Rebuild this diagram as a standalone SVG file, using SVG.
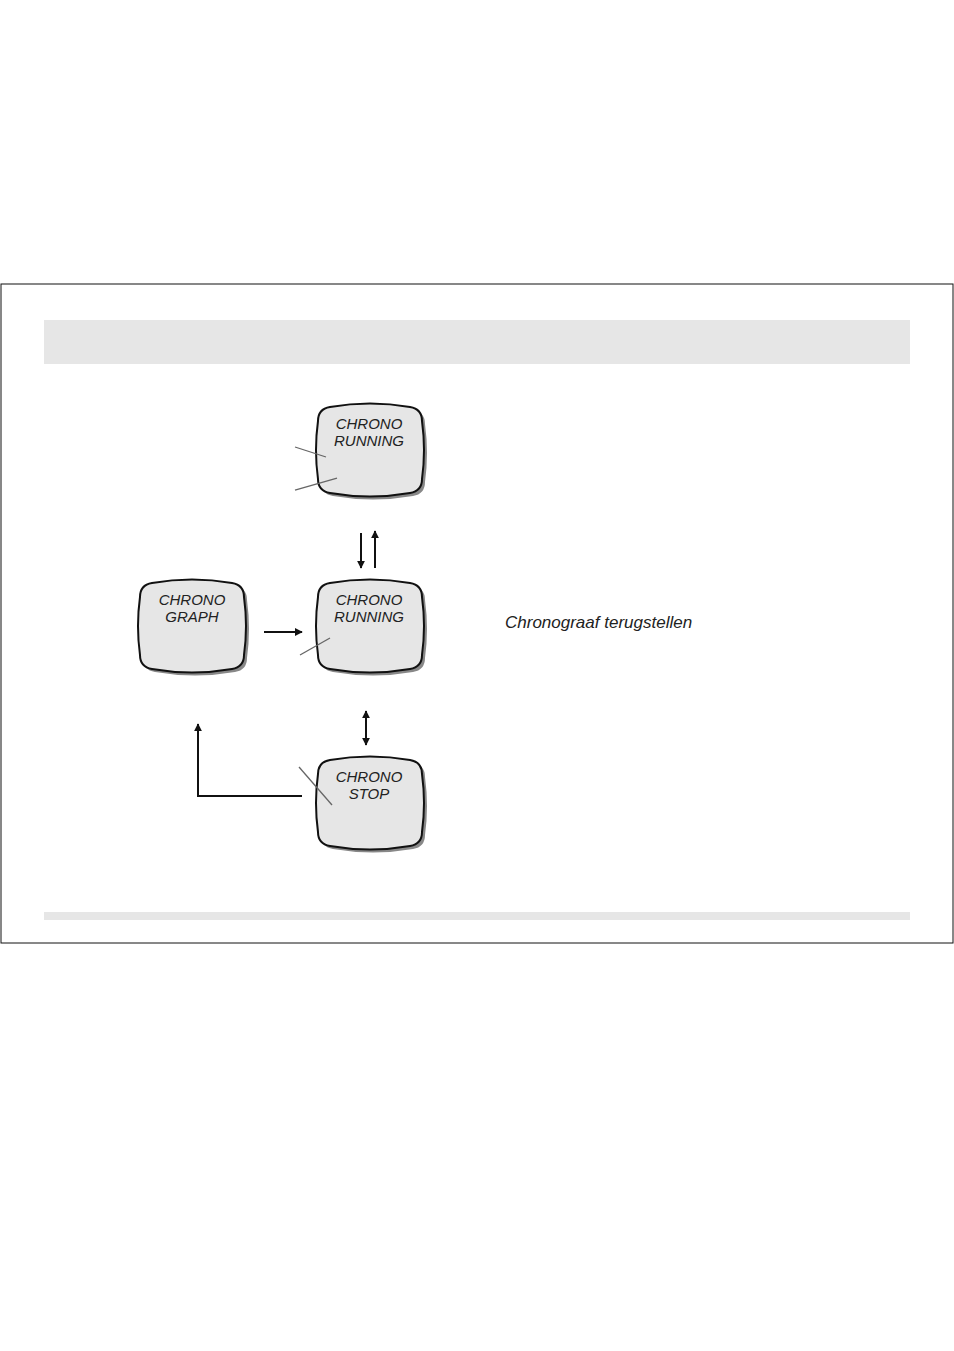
<svg xmlns="http://www.w3.org/2000/svg" width="954" height="1351" viewBox="0 0 954 1351">
<style>
.w{fill:#e6e6e6;stroke:#111;stroke-width:2}
.sh{fill:#888}
.t{font-family:"Liberation Sans",Arial,sans-serif;font-style:italic;font-size:15px;fill:#222;text-anchor:middle}
.c{stroke:#111;stroke-width:2;fill:none}
.p{stroke:#666;stroke-width:1.3}
</style>
<defs>
<path id="watch" d="M12,3 Q52,-4 92,3 Q104,5 104,17 Q108,46 104,75 Q104,87 92,89 Q52,96 12,89 Q0,87 0,75 Q-4,46 0,17 Q0,5 12,3 Z"/>
<marker id="ah" viewBox="0 0 10 10" refX="9" refY="5" markerWidth="4" markerHeight="4" orient="auto-start-reverse"><path d="M0,0 L10,5 L0,10 Z" fill="#111"/></marker>
</defs>
<rect x="1" y="284" width="952" height="659" fill="#fff" stroke="#111" stroke-width="1"/>
<rect x="44" y="320" width="866" height="44" fill="#e6e6e6"/>
<rect x="44" y="912" width="866" height="8" fill="#e6e6e6"/>
<g id="running1" transform="translate(318,404)"><use href="#watch" class="sh" x="3" y="3"/><use href="#watch" class="w"/><text class="t" x="51" y="25">CHRONO</text><text class="t" x="51" y="42">RUNNING</text></g>
<g id="running2" transform="translate(318,580)"><use href="#watch" class="sh" x="3" y="3"/><use href="#watch" class="w"/><text class="t" x="51" y="25">CHRONO</text><text class="t" x="51" y="42">RUNNING</text></g>
<g id="graph" transform="translate(140,580)"><use href="#watch" class="sh" x="3" y="3"/><use href="#watch" class="w"/><text class="t" x="52" y="25">CHRONO</text><text class="t" x="52" y="42">GRAPH</text></g>
<g id="stop" transform="translate(318,757)"><use href="#watch" class="sh" x="3" y="3"/><use href="#watch" class="w"/><text class="t" x="51" y="25">CHRONO</text><text class="t" x="51" y="42">STOP</text></g>
<g id="pointers">
<line class="p" x1="295" y1="447" x2="326" y2="457"/>
<line class="p" x1="295" y1="490" x2="337" y2="478"/>
<line class="p" x1="300" y1="655" x2="330" y2="638"/>
<line class="p" x1="299" y1="767" x2="332" y2="805"/>
</g>
<g id="connectors">
<line class="c" x1="361" y1="533" x2="361" y2="568" stroke-width="1.5" marker-end="url(#ah)"/>
<line class="c" x1="375" y1="568" x2="375" y2="531" stroke-width="2.5" marker-end="url(#ah)"/>
<line class="c" x1="264" y1="632" x2="302" y2="632" stroke-width="2.5" marker-end="url(#ah)"/>
<line class="c" x1="366" y1="711" x2="366" y2="745" stroke-width="1.5" marker-start="url(#ah)" marker-end="url(#ah)"/>
<polyline class="c" points="302,796 198,796 198,724" stroke-width="2.5" marker-end="url(#ah)"/>
</g>
<text x="505" y="628" font-family="Liberation Sans,Arial,sans-serif" font-style="italic" font-size="17" fill="#222">Chronograaf terugstellen</text>
</svg>
